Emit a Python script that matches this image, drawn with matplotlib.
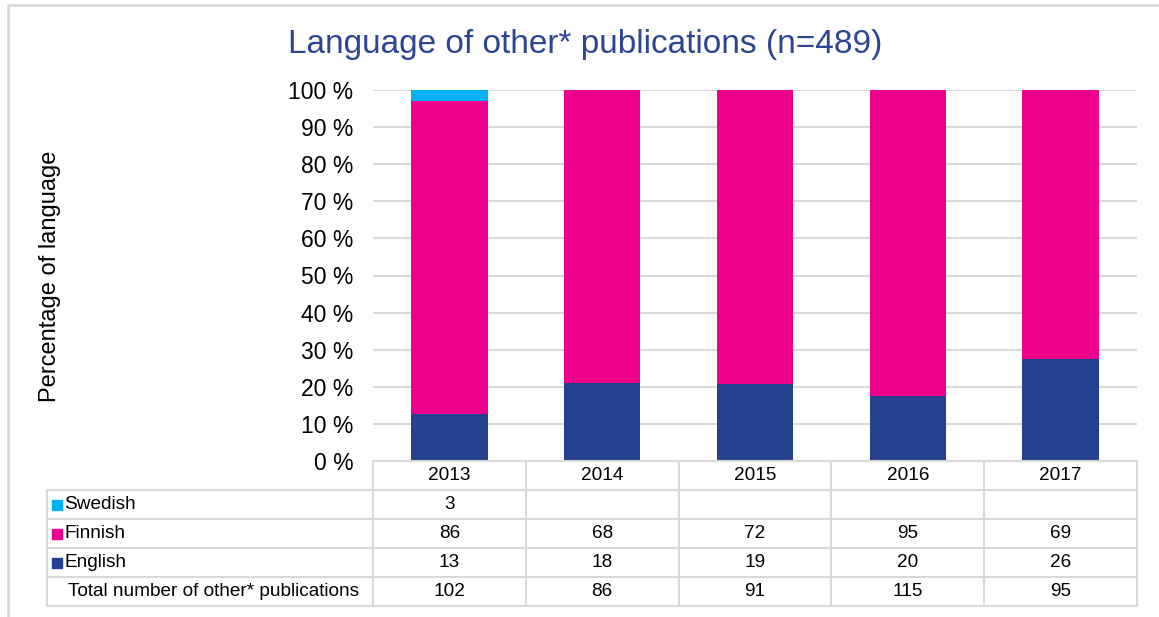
#!/usr/bin/env python3

import numpy as np
import matplotlib
matplotlib.use('Agg')
import matplotlib.pyplot as plt
from matplotlib.patches import Rectangle

plt.rcParams['font.family'] = ['Liberation Sans', 'DejaVu Sans']

years = ['2013', '2014', '2015', '2016', '2017']
swedish = [3, 0, 0, 0, 0]
finnish = [86, 68, 72, 95, 69]
english = [13, 18, 19, 20, 26]
totals = [102, 86, 91, 115, 95]

series = ['Swedish', 'Finnish', 'English']
colours = {'Swedish': '#00B0F0', 'Finnish': '#EC008C', 'English': '#25408F'}
grid_grey = '#D9D9D9'

W, H = 1159, 617
fig = plt.figure(figsize=(W/100, H/100), dpi=100)

# plot area in pixels (left, top, right, bottom)
px_l, px_t, px_r, px_b = 373, 90, 1137, 461
ax = fig.add_axes([px_l/W, 1-px_b/H, (px_r-px_l)/W, (px_b-px_t)/H])

x = np.arange(len(years))
eng = np.array(english)/np.array(totals)
fin = np.array(finnish)/np.array(totals)
swe = np.array(swedish)/np.array(totals)
ax.bar(x, eng, 0.5, color=colours['English'], zorder=3)
ax.bar(x, fin, 0.5, bottom=eng, color=colours['Finnish'], zorder=3)
ax.bar(x, swe, 0.5, bottom=eng+fin, color=colours['Swedish'], zorder=3)

ax.set_xlim(-0.5, len(years)-0.5)
ax.set_ylim(0, 1)
ax.set_yticks(np.arange(0, 1.01, 0.1))
ax.set_yticklabels(['%d %%' % round(v*100) for v in np.arange(0, 1.01, 0.1)], fontsize=16.5)
ax.set_xticks([])
ax.tick_params(axis='y', length=0, pad=14)
ax.yaxis.grid(True, color=grid_grey, lw=1.5, zorder=0)
for s in ax.spines.values():
    s.set_visible(False)

fig.text(585/W, 1-45/H, 'Language of other* publications (n=489)',
         ha='center', va='center', fontsize=24, color='#2E4593')
fig.text(50/W, 1-276/H, 'Percentage of language', rotation=90,
         ha='center', va='center', fontsize=17)

# data table underneath, drawn on a pixel-space overlay
ov = fig.add_axes([0, 0, 1, 1], zorder=5)
ov.set_xlim(0, W)
ov.set_ylim(H, 0)
ov.axis('off')
ov.patch.set_alpha(0)

# outer chart frame
ov.plot([7.5, 7.5, W], [H, 4.5, 4.5], color=grid_grey, lw=2)

tab_l = 47
row_y = [461, 490, 519, 548, 577, 606]
col_w = (px_r - px_l)/len(years)
col_x = [px_l + i*col_w for i in range(len(years)+1)]

lk = dict(color=grid_grey, lw=1.5)
ov.plot([px_l, px_r], [row_y[0]]*2, **lk)
for y in row_y[1:]:
    ov.plot([tab_l, px_r], [y, y], **lk)
ov.plot([tab_l, tab_l], [row_y[1], row_y[-1]], **lk)
for cx in col_x:
    ov.plot([cx, cx], [row_y[0], row_y[-1]], **lk)

fs = 13.7
for i, yr in enumerate(years):
    ov.text(col_x[i]+col_w/2, (row_y[0]+row_y[1])/2, yr, ha='center', va='center', fontsize=fs)

rows = [('Swedish', swedish), ('Finnish', finnish), ('English', english)]
for r, (name, vals) in enumerate(rows):
    yc = (row_y[r+1]+row_y[r+2])/2
    ov.add_patch(Rectangle((52, yc-5), 10, 10, color=colours[name]))
    ov.text(64, yc, name, ha='left', va='center', fontsize=fs)
    for i, v in enumerate(vals):
        if v:
            ov.text(col_x[i]+col_w/2, yc, str(v), ha='center', va='center', fontsize=fs)

yc = (row_y[4]+row_y[5])/2
ov.text(68, yc, 'Total number of other* publications', ha='left', va='center', fontsize=fs)
for i, v in enumerate(totals):
    ov.text(col_x[i]+col_w/2, yc, str(v), ha='center', va='center', fontsize=fs)

fig.savefig('out.png', dpi=100)
